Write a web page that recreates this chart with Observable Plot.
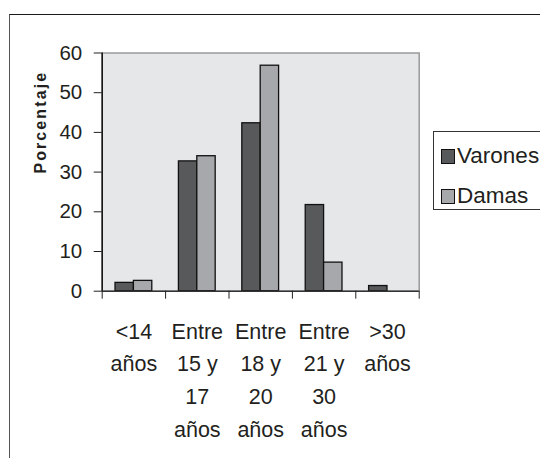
<!DOCTYPE html>
<html>
<head>
<meta charset="utf-8">
<script src="https://cdn.jsdelivr.net/npm/d3@7"></script>
<script src="https://cdn.jsdelivr.net/npm/@observablehq/plot@0.6"></script>
<style>
  html, body { margin: 0; padding: 0; background: #fff; }
  body { width: 540px; height: 458px; position: relative; overflow: hidden; font-family: "Liberation Sans", Arial, sans-serif; color: #231f20; }
  #outer { position: absolute; left: 9px; top: 14px; width: 560px; height: 480px; border-top: 1.5px solid #1a1a1a; border-left: 1.5px solid #555; }
  #chart { position: absolute; left: 0; top: 0; }
  #legend { position: absolute; left: 433px; top: 131px; width: 130px; height: 77px; border: 1px solid #333; background: #fff; }
  .item { position: absolute; left: 7px; font-size: 22.5px; line-height: 22px; white-space: nowrap; }
  .sw { display: inline-block; width: 12px; height: 13px; border: 1px solid #111; vertical-align: top; margin-top: 4px; margin-right: 2px; }
</style>
</head>
<body>
<div id="outer"></div>
<div id="chart"></div>
<div id="legend"></div>
<script>
const categories = ["<14 años", "Entre 15 y 17 años", "Entre 18 y 20 años", "Entre 21 y 30 años", ">30 años"];
const tickLabels = ["<14\naños", "Entre\n15 y\n17\naños", "Entre\n18 y\n20\naños", "Entre\n21 y\n30\naños", ">30\naños"];
const series = ["Varones", "Damas"];
const varones = [2.1, 32.7, 42.3, 21.7, 1.3];
const damas = [2.6, 34.0, 56.8, 7.2, 0];
const yTicks = [0, 10, 20, 30, 40, 50, 60];
const colors = ["#58595b", "#a7a8ab"];

const rows = [];
categories.forEach((c, i) => {
  rows.push({i, cat: c, series: "Varones", value: varones[i]});
  rows.push({i, cat: c, series: "Damas", value: damas[i]});
});
const barRows = rows.filter(d => d.value > 0);
const off = {Varones: 0.21, Damas: 0.5};
const bw = 0.29;

const plot = Plot.plot({
  width: 540,
  height: 458,
  marginLeft: 101.7,
  marginRight: 121.3,
  marginTop: 52.5,
  marginBottom: 167.3,
  style: {fontFamily: "'Liberation Sans', Arial, sans-serif", fontSize: "20px", color: "#231f20", background: "transparent", overflow: "visible"},
  x: {type: "linear", domain: [0, categories.length], axis: null},
  y: {type: "linear", domain: [0, 60], axis: null},
  color: {domain: series, range: colors},
  marks: [
    Plot.frame({fill: "#e6e7e9", stroke: "#9a9a9a", strokeWidth: 1.5}),
    Plot.rectY(barRows, {
      x1: d => d.i + off[d.series],
      x2: d => d.i + off[d.series] + bw,
      y1: 0,
      y2: "value",
      fill: "series",
      stroke: "#111",
      strokeWidth: 1.3
    }),
    Plot.ruleY([0], {stroke: "#333", strokeWidth: 1.5}),
    Plot.ruleX([0], {stroke: "#111", strokeWidth: 1.5}),
    Plot.axisY({ticks: yTicks, tickSize: 8, tickPadding: 12, fontSize: 20.5, stroke: "#222", label: null}),
    Plot.axisX({ticks: d3.range(categories.length + 1), tickSize: 8, tickFormat: () => "", stroke: "#222", label: null}),
    Plot.text(tickLabels, {
      x: (d, i) => i + 0.5,
      frameAnchor: "bottom",
      lineAnchor: "top",
      dy: 24,
      lineHeight: 1.53,
      fontSize: 21.5,
      fill: "#231f20"
    }),
    Plot.text(["Porcentaje"], {
      frameAnchor: "left",
      rotate: -90,
      dx: -61.4,
      dy: 1.5,
      fontSize: 16,
      fontWeight: "bold",
      fill: "#231f20"
    })
  ]
});
document.getElementById("chart").appendChild(plot);
plot.querySelectorAll("text").forEach(t => {
  if (t.textContent === "Porcentaje") t.style.letterSpacing = "2.1px";
});

const legend = document.getElementById("legend");
const tops = [13, 53];
series.forEach((s, k) => {
  const it = document.createElement("div");
  it.className = "item";
  it.style.top = tops[k] + "px";
  const sw = document.createElement("span");
  sw.className = "sw";
  sw.style.background = colors[k];
  it.appendChild(sw);
  it.appendChild(document.createTextNode(s));
  legend.appendChild(it);
});
</script>
</body>
</html>
